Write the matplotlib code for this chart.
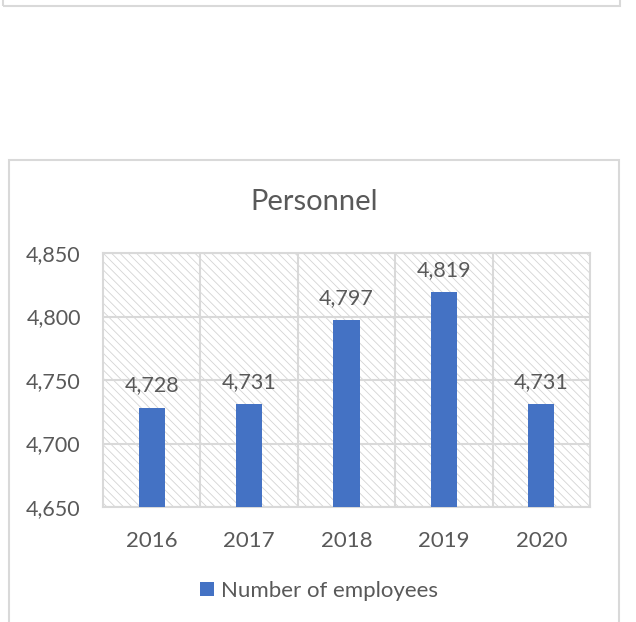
import matplotlib.pyplot as plt
import matplotlib.patches as mpatches
from matplotlib.ticker import FuncFormatter, MultipleLocator

years = ['2016', '2017', '2018', '2019', '2020']
employees = [4728, 4731, 4797, 4819, 4731]
series_name = 'Number of employees'
title = 'Personnel'
y_min, y_max, y_step = 4650, 4850, 50

W, H = 636, 622
bar_color = '#4472c4'
grid_color = '#d9d9d9'
text_color = '#595959'

plt.rcParams['font.family'] = ['Lato', 'DejaVu Sans']
plt.rcParams['hatch.linewidth'] = 0.6

fig = plt.figure(figsize=(W / 100, H / 100), dpi=100)


def px_rect(x0, y0, x1, y1):
    # top-left / bottom-right pixel corners -> figure fractions
    return [x0 / W, 1 - y1 / H, (x1 - x0) / W, (y1 - y0) / H]


# chart frames (the previous chart's bottom edge and this chart's outline)
for x0, y0, x1, y1 in [(3, -20, 620, 6), (9, 160, 619, 640)]:
    l, b, w, h = px_rect(x0, y0, x1, y1)
    fig.patches.append(mpatches.Rectangle((l, b), w, h, transform=fig.transFigure,
                                          fill=False, edgecolor=grid_color, lw=1.5))

ax = fig.add_axes(px_rect(103, 253, 590, 507))
ax.set_xlim(-0.5, len(years) - 0.5)
ax.set_ylim(y_min, y_max)

# hatched plot area
ax.add_patch(mpatches.Rectangle((0, 0), 1, 1, transform=ax.transAxes, facecolor='white',
                                edgecolor='#d4d4d4', hatch='\\\\\\\\', lw=0, zorder=0))

xs = list(range(len(years)))
ax.bar(xs, [v - y_min for v in employees], bottom=y_min, width=0.27,
       color=bar_color, zorder=3, label=series_name)

for x, v in zip(xs, employees):
    ax.annotate(f'{v:,}', (x, v), xytext=(0, 9), textcoords='offset points',
                ha='center', va='bottom', fontsize=15.5, color=text_color)

ax.yaxis.set_major_locator(MultipleLocator(y_step))
ax.yaxis.set_major_formatter(FuncFormatter(lambda v, p: f'{v:,.0f}'))
ax.set_xticks(xs)
ax.set_xticklabels(years)
ax.set_xticks([x + 0.5 for x in xs[:-1]], minor=True)
ax.tick_params(which='both', length=0, labelcolor=text_color)
ax.tick_params(axis='x', pad=17, labelsize=16)
ax.tick_params(axis='y', pad=16, labelsize=15.5)
ax.set_axisbelow(True)
ax.grid(True, axis='y', which='major', color=grid_color, lw=1.5, zorder=1)
ax.grid(True, axis='x', which='minor', color=grid_color, lw=1.5, zorder=1)
ax.grid(False, axis='x', which='major')
for s in ax.spines.values():
    s.set_color(grid_color)
    s.set_linewidth(1.5)

fig.text(314 / W, 1 - 202 / H, title, ha='center', va='center', fontsize=21,
         color=text_color)

fig.legend(loc='center', bbox_to_anchor=(319 / W, 1 - 591 / H), frameon=False,
           fontsize=16, labelcolor=text_color, handlelength=0.65, handleheight=0.6,
           handletextpad=0.32)

fig.savefig('out.png', dpi=100)
